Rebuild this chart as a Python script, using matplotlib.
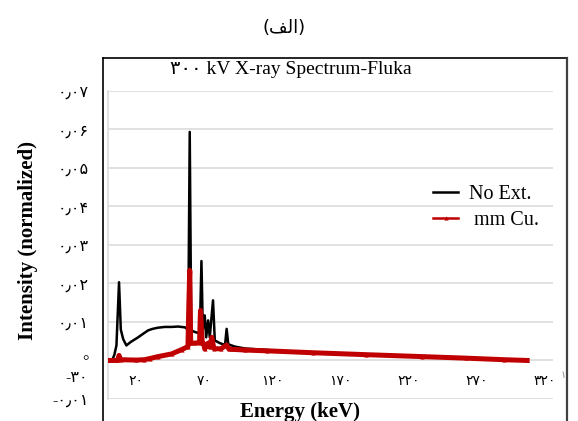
import numpy as np
import matplotlib
matplotlib.use("Agg")
import matplotlib.pyplot as plt
from matplotlib.lines import Line2D

# No Ext. (keV, normalized intensity)
energy_noext = [2.3, 4.0, 5.5, 7.4, 8.7, 10.4, 11.2, 12.8, 16.0, 21.4, 25.0, 28.7,
                32.0, 36.0, 41.0, 45.9, 50.7, 55.7, 58.2, 59.3, 60.4, 63.0, 66.7,
                67.9, 68.9, 70.3, 71.4, 72.8, 74.0, 76.4, 77.7, 81.4, 85.2, 86.4,
                87.6, 92.4, 100, 130, 160, 200, 250, 280, 300, 307]
intensity_noext = [0.0, 0.0015, 0.0039, 0.0203, 0.0080, 0.0056, 0.0050, 0.0039, 0.0048,
                   0.0060, 0.0069, 0.0078, 0.0082, 0.0085, 0.0087, 0.0087, 0.0088, 0.0086,
                   0.0080, 0.0593, 0.0078, 0.0074, 0.0070, 0.0258, 0.0080, 0.0117, 0.0060,
                   0.0104, 0.0060, 0.0156, 0.0052, 0.0045, 0.0040, 0.0082, 0.0042, 0.0036,
                   0.0031, 0.0024, 0.0019, 0.0014, 0.0008, 0.0004, 0.0002, 0.0]

# mm Cu. filtered spectrum
energy_cu = [-1.5, 6.5, 7.4, 8.5, 20.0, 26.0, 30.0, 36.0, 46.0, 53.3, 58.0, 58.6,
             59.3, 60.0, 63.0, 66.5, 67.2, 68.5, 69.5, 70.3, 72.8, 74.0, 75.5, 77.0,
             82.0, 86.4, 88.0, 90.0, 100, 116, 150, 189, 230, 262, 290, 307]
intensity_cu = [0.0, 0.0, 0.0013, 0.0002, 0.0001, 0.0002, 0.0005, 0.0010, 0.0017,
                0.0028, 0.0036, 0.0138, 0.0234, 0.0045, 0.0045, 0.0046, 0.0130, 0.0045,
                0.0044, 0.0030, 0.0045, 0.0035, 0.0060, 0.0031, 0.0030, 0.0040, 0.0030,
                0.0029, 0.0027, 0.0025, 0.0020, 0.0015, 0.0010, 0.0006, 0.0002, 0.0]

y_ticks = [-0.01, 0.0, 0.01, 0.02, 0.03, 0.04, 0.05, 0.06, 0.07]
y_labels = ["-۰٫۰۱", "°", "۰٫۰۱", "۰٫۰۲", "۰٫۰۳", "۰٫۰۴", "۰٫۰۵", "۰٫۰۶", "۰٫۰۷"]
x_ticks = [20, 70, 120, 170, 220, 270, 320]
x_labels = ["۲۰", "۷۰", "۱۲۰", "۱۷۰", "۲۲۰", "۲۷۰", "۳۲۰"]

W, H = 578, 421
SERIF = ["Liberation Serif", "DejaVu Sans"]
RED = "#c00000"
GRID = "#d9d9d9"

fig = plt.figure(figsize=(W / 100, H / 100), dpi=100)

# outer chart frame (its bottom edge runs off the picture)
fx = lambda px: px / W
fy = lambda py: 1 - py / H
fig.add_artist(Line2D([fx(102.7), fx(102.7)], [fy(57.7), fy(430)], color="black", lw=1.2))
fig.add_artist(Line2D([fx(102.7), fx(566.5)], [fy(57.7), fy(57.7)], color="black", lw=1.2))
fig.add_artist(Line2D([fx(566.5), fx(566.5)], [fy(57.7), fy(430)], color="#404040", lw=1.6))

ax = fig.add_axes([fx(108), fy(399), (553 - 108) / W, (399 - 90.7) / H])
ax.plot(energy_noext, intensity_noext, color="black", lw=1.8, label="No Ext.", zorder=3)
ax.plot(energy_cu, intensity_cu, color=RED, lw=3.6, marker="^", ms=3, mew=0,
        label=" mm Cu.", zorder=4)

ax.set_xlim(-0.7, 326)
ax.set_ylim(-0.01, 0.07)
ax.set_yticks(y_ticks)
ax.set_yticklabels(y_labels, family=SERIF, fontsize=11.5)
ax.set_xticks(x_ticks)
ax.set_xticklabels(x_labels, family=SERIF, fontsize=11.5)
ax.tick_params(length=0)
ax.tick_params(axis="y", pad=14)
ax.tick_params(axis="x", pad=10)
ax.spines["bottom"].set_position(("data", 0))
ax.spines["bottom"].set_visible(False)
for s in ("top", "right"):
    ax.spines[s].set_visible(False)
ax.spines["left"].set_color(GRID)
ax.spines["left"].set_linewidth(1.1)
ax.grid(axis="y", color=GRID, lw=1.1)
ax.set_axisbelow(True)

leg = ax.legend(loc="center left", bbox_to_anchor=(fx(433), fy(207.5)),
                bbox_transform=fig.transFigure, frameon=False, borderpad=0,
                borderaxespad=0, handlelength=1.25, handletextpad=0.55,
                labelspacing=0.35, prop={"family": SERIF, "size": 14.5})
leg.get_lines()[1].set_linewidth(1.8)

fig.text(fx(290.5), fy(70), "۳۰۰ kV X-ray Spectrum-Fluka", ha="center", va="center",
         family=SERIF, fontsize=14)
fig.text(fx(284), fy(28), "(\ufed2\ufedf\ufe8d)", ha="center", va="center",
         family=["DejaVu Sans"], fontsize=13)
fig.text(fx(28), fy(241), "Intensity (normalized)", rotation=90, ha="center",
         va="center", family=SERIF, fontsize=15, fontweight="bold")
fig.text(fx(300), fy(412), "Energy (keV)", ha="center", va="center",
         family=SERIF, fontsize=15, fontweight="bold")
fig.text(fx(88), fy(378), "-۳۰", ha="right", va="center", family=SERIF, fontsize=11.5)
fig.text(fx(561), fy(376), "۱", ha="left", va="center", family=SERIF, fontsize=7,
         color="#888888")

fig.savefig("out.png", dpi=100)
